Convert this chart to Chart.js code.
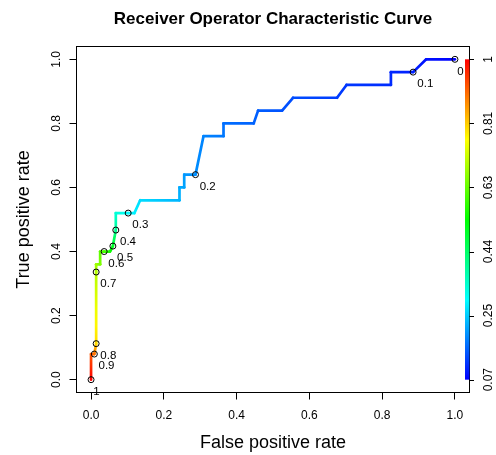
<!DOCTYPE html>
<html>
<head>
<meta charset="utf-8">
<script src="https://cdn.jsdelivr.net/npm/chart.js@4/dist/chart.umd.min.js"></script>
<style>
html, body { margin: 0; padding: 0; background: #fff; }
</style>
</head>
<body>
<canvas id="rocChart" width="496" height="455"></canvas>
<script>
// ROC curve vertices
const fpr = [0, 0, 0.009, 0.014, 0.014, 0.014, 0.025, 0.025, 0.036, 0.052, 0.06, 0.068, 0.068, 0.102,
  0.119, 0.135, 0.243, 0.243, 0.256, 0.256, 0.287, 0.309, 0.364, 0.364, 0.447, 0.459, 0.525, 0.555,
  0.676, 0.702, 0.824, 0.824, 0.885, 0.921, 1.0];
const tpr = [0, 0.08, 0.08, 0.1125, 0.336, 0.36, 0.36, 0.40, 0.40, 0.40, 0.417, 0.467, 0.52, 0.52,
  0.52, 0.56, 0.56, 0.60, 0.60, 0.64, 0.64, 0.76, 0.76, 0.80, 0.80, 0.84, 0.84, 0.88,
  0.88, 0.92, 0.92, 0.96, 0.96, 1.0, 1.0];
// cutoff at each vertex (drives the colour)
const cutoffs = [1.0, 0.92, 0.9, 0.8, 0.7, 0.68, 0.65, 0.62, 0.6, 0.55, 0.5, 0.4, 0.34, 0.3,
  0.29, 0.27, 0.235, 0.225, 0.22, 0.21, 0.2, 0.19, 0.18, 0.17, 0.16, 0.155, 0.145, 0.14,
  0.125, 0.12, 0.11, 0.105, 0.1, 0.085, 0.07];

// printed cutoffs
const cutFpr = [0, 0.009, 0.014, 0.014, 0.036, 0.06, 0.068, 0.102, 0.287, 0.885, 1.0];
const cutTpr = [0, 0.08, 0.1125, 0.336, 0.40, 0.417, 0.467, 0.52, 0.64, 0.96, 1.0];
const cutLabels = ['1', '0.9', '0.8', '0.7', '0.6', '0.5', '0.4', '0.3', '0.2', '0.1', '0'];

const xTicks = [0, 0.2, 0.4, 0.6, 0.8, 1];
const xTickLabels = ['0.0', '0.2', '0.4', '0.6', '0.8', '1.0'];
const yTicks = [0, 0.2, 0.4, 0.6, 0.8, 1];
const yTickLabels = ['0.0', '0.2', '0.4', '0.6', '0.8', '1.0'];

// colour bar
const barTicks = [0, 0.2, 0.4, 0.6, 0.8, 1];
const barLabels = ['0.07', '0.25', '0.44', '0.63', '0.81', '1'];
const cutMin = 0.07, cutMax = 1;

const FONT = "'Liberation Sans', Arial, Helvetica, sans-serif";
Chart.defaults.font.family = FONT;
Chart.defaults.color = '#000';

function cutColor(c) {
  let t = (c - cutMin) / (cutMax - cutMin);
  t = Math.max(0, Math.min(1, t));
  return 'hsl(' + (240 * (1 - t)).toFixed(1) + ',100%,50%)';
}

const rocDecor = {
  id: 'rocDecor',
  afterLayout(chart) {
    // centre the main title over the plot region like R does
    const a = chart.chartArea;
    if (chart.titleBlock) {
      chart.titleBlock.left = a.left;
      chart.titleBlock.right = a.right;
    }
  },
  afterDatasetsDraw(chart) {
    const ctx = chart.ctx;
    const pts = chart.getDatasetMeta(0).data;
    ctx.save();
    ctx.fillStyle = '#000';
    ctx.font = '11.5px ' + FONT;
    ctx.textAlign = 'left';
    ctx.textBaseline = 'alphabetic';
    pts.forEach((p, i) => {
      const w = ctx.measureText(cutLabels[i]).width;
      ctx.fillText(cutLabels[i], p.x + 0.2 * w + 1, p.y + 15.3);
    });
    ctx.restore();
  },
  afterDraw(chart) {
    const ctx = chart.ctx;
    const a = chart.chartArea;
    const ys = chart.scales.y;
    ctx.save();
    // plot box
    ctx.strokeStyle = '#000';
    ctx.lineWidth = 1;
    ctx.strokeRect(a.left, a.top, a.right - a.left, a.bottom - a.top);

    // colour bar
    const yTop = ys.getPixelForValue(1);
    const yBot = ys.getPixelForValue(0);
    const g = ctx.createLinearGradient(0, yBot, 0, yTop);
    for (let k = 0; k <= 24; k++) {
      g.addColorStop(k / 24, cutColor(cutMin + (cutMax - cutMin) * k / 24));
    }
    ctx.fillStyle = g;
    ctx.fillRect(a.right - 4.5, yTop, 4.5, yBot - yTop);

    ctx.beginPath();
    barTicks.forEach(v => {
      const y = Math.round(ys.getPixelForValue(v)) + 0.5;
      ctx.moveTo(a.right, y);
      ctx.lineTo(a.right + 4.5, y);
    });
    ctx.stroke();

    ctx.fillStyle = '#000';
    ctx.font = '12px ' + FONT;
    ctx.textAlign = 'center';
    ctx.textBaseline = 'middle';
    barTicks.forEach((v, i) => {
      ctx.save();
      ctx.translate(488.5, ys.getPixelForValue(v));
      ctx.rotate(-Math.PI / 2);
      ctx.fillText(barLabels[i], 0, 0);
      ctx.restore();
    });
    ctx.restore();
  }
};

const curveData = fpr.map((x, i) => ({x: x, y: tpr[i]}));
const cutData = cutFpr.map((x, i) => ({x: x, y: cutTpr[i]}));

const config = {
  type: 'scatter',
  data: {
    datasets: [{
      label: 'cutoffs',
      data: cutData,
      order: 0,
      showLine: false,
      pointRadius: 3,
      pointStyle: 'circle',
      pointBorderColor: '#000',
      pointBackgroundColor: 'rgba(0,0,0,0)',
      pointBorderWidth: 1
    }, {
      label: 'ROC',
      data: curveData,
      order: 1,
      showLine: true,
      pointRadius: 0,
      borderWidth: 2.7,
      borderCapStyle: 'round',
      borderJoinStyle: 'round',
      tension: 0,
      segment: {
        borderColor: ctx => {
          const c0 = cutoffs[ctx.p0DataIndex], c1 = cutoffs[ctx.p1DataIndex];
          const x0 = ctx.p0.x, y0 = ctx.p0.y, x1 = ctx.p1.x, y1 = ctx.p1.y;
          if (Math.hypot(x1 - x0, y1 - y0) < 0.5) return cutColor(c0);
          const g = ctx.chart.ctx.createLinearGradient(x0, y0, x1, y1);
          for (let k = 0; k <= 4; k++) g.addColorStop(k / 4, cutColor(c0 + (c1 - c0) * k / 4));
          return g;
        }
      }
    }]
  },
  options: {
    responsive: false,
    animation: false,
    layout: { padding: { top: 0, left: 0, right: 26.5, bottom: 0 } },
    plugins: {
      legend: { display: false },
      tooltip: { enabled: false },
      title: {
        display: true,
        text: 'Receiver Operator Characteristic Curve',
        font: { size: 17, weight: 'bold' },
        color: '#000',
        padding: { top: 9.5, bottom: 16.6 }
      }
    },
    scales: {
      x: {
        type: 'linear',
        min: -0.04,
        max: 1.04,
        afterBuildTicks: scale => { scale.ticks = xTicks.map(v => ({value: v})); },
        afterFit: scale => { scale.height = 62.5; },
        border: { display: false },
        grid: { drawOnChartArea: false, drawTicks: true, tickLength: 7, tickColor: '#000', lineWidth: 1 },
        ticks: {
          font: { size: 12 },
          color: '#000',
          padding: 9,
          maxRotation: 0,
          callback: (v, i) => xTickLabels[i]
        },
        title: {
          display: true,
          text: 'False positive rate',
          font: { size: 18 },
          color: '#000',
          padding: { top: 4, bottom: 1 }
        }
      },
      y: {
        type: 'linear',
        min: -0.04,
        max: 1.04,
        afterBuildTicks: scale => { scale.ticks = yTicks.map(v => ({value: v})); },
        afterFit: scale => { scale.width = 76.5; },
        border: { display: false },
        grid: { drawOnChartArea: false, drawTicks: true, tickLength: 7, tickColor: '#000', lineWidth: 1 },
        ticks: {
          font: { size: 12 },
          color: '#000',
          padding: 4,
          minRotation: 90,
          maxRotation: 90,
          crossAlign: 'center',
          callback: (v, i) => yTickLabels[i]
        },
        title: {
          display: true,
          text: 'True positive rate',
          font: { size: 18 },
          color: '#000',
          padding: { top: 13.5, bottom: 4 }
        }
      }
    }
  },
  plugins: [rocDecor]
};

new Chart(document.getElementById('rocChart'), config);
</script>
</body>
</html>
